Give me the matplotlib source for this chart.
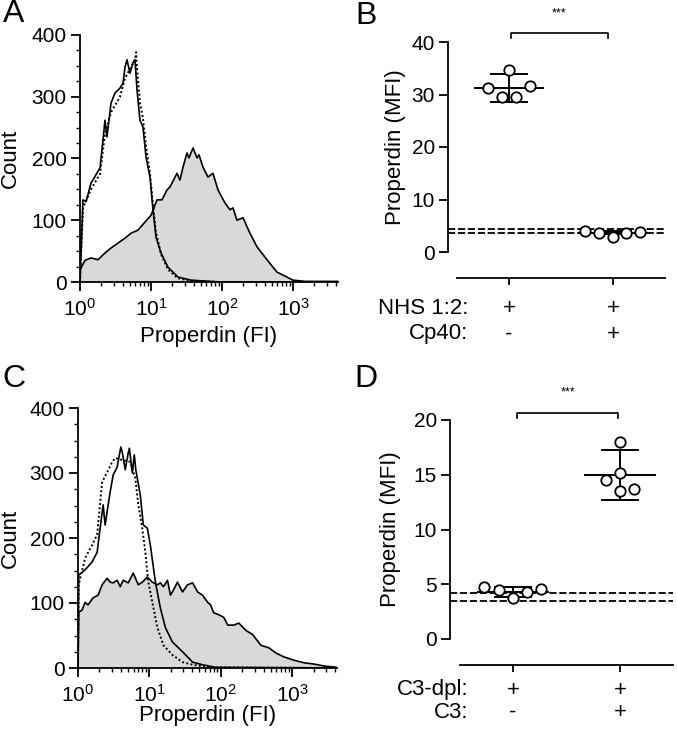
import numpy as np
import matplotlib
matplotlib.use("Agg")
import matplotlib.pyplot as plt
import matplotlib.transforms as mtransforms
from matplotlib.ticker import MultipleLocator, LogLocator, NullFormatter

plt.rcParams['font.family'] = ['Liberation Sans', 'DejaVu Sans']
plt.rcParams['mathtext.fontset'] = 'custom'
plt.rcParams['mathtext.rm'] = 'Liberation Sans'
plt.rcParams['mathtext.it'] = 'Liberation Sans'
plt.rcParams['mathtext.default'] = 'regular'

# ---- panel A histograms (log10 fluorescence, count) ----
a_ctrl_log = [0.0, 0.042, 0.085, 0.155, 0.282, 0.324, 0.352, 0.380, 0.437, 0.493,
              0.563, 0.606, 0.634, 0.662, 0.704, 0.746, 0.775, 0.803, 0.845, 0.887,
              0.930, 0.986, 1.028, 1.070, 1.141, 1.239, 1.380, 1.563, 1.97, 3.634]
a_ctrl_cnt = [0, 133, 130, 160, 185, 230, 262, 235, 290, 306,
              314, 322, 348, 360, 338, 355, 360, 311, 262, 251,
              202, 170, 117, 73, 47, 24, 8, 3, 0, 0]
a_dot_log = [0.0, 0.042, 0.155, 0.282, 0.352, 0.380, 0.437, 0.563, 0.634, 0.704,
             0.775, 0.79, 0.803, 0.845, 0.887, 0.930, 0.986, 1.028, 1.070, 1.141,
             1.239, 1.380, 1.563, 1.97, 3.634]
a_dot_cnt = [0, 120, 150, 175, 240, 250, 275, 300, 330, 345,
             360, 372, 345, 290, 265, 220, 175, 125, 80, 45,
             20, 6, 2, 0, 0]
a_np_log = [0.0, 0.07, 0.155, 0.254, 0.352, 0.437, 0.535, 0.634, 0.718, 0.817,
            0.915, 1.0, 1.085, 1.155, 1.225, 1.268, 1.366, 1.408, 1.451, 1.507,
            1.535, 1.592, 1.648, 1.676, 1.732, 1.803, 1.873, 1.944, 2.042, 2.113,
            2.155, 2.211, 2.296, 2.394, 2.493, 2.634, 2.775, 2.915, 3.0, 3.17, 3.634]
a_np_cnt = [19, 35, 39, 36, 47, 55, 63, 71, 79, 84,
            97, 108, 133, 133, 149, 154, 176, 165, 186, 209,
            201, 217, 201, 206, 186, 170, 176, 149, 128, 117,
            120, 100, 104, 79, 57, 36, 16, 8, 3, 1, 1]

# ---- panel C histograms ----
c_ctrl_log = [0.0, 0.01, 0.099, 0.197, 0.268, 0.31, 0.352, 0.38, 0.408, 0.451,
              0.493, 0.549, 0.60, 0.62, 0.662, 0.704, 0.72, 0.761, 0.789, 0.81,
              0.831, 0.873, 0.915, 0.972, 1.014, 1.085, 1.155, 1.225, 1.324, 1.465,
              1.606, 1.746, 1.93, 3.63]
c_ctrl_cnt = [0, 143, 151, 163, 178, 215, 251, 220, 240, 271,
              297, 309, 340, 332, 305, 331, 338, 300, 328, 305,
              292, 266, 220, 215, 189, 132, 92, 62, 40, 25,
              9, 5, 1, 0]
c_dot_log = [0.0, 0.01, 0.099, 0.197, 0.268, 0.338, 0.408, 0.479, 0.521, 0.62,
             0.732, 0.803, 0.845, 0.901, 0.944, 0.986, 1.042, 1.113, 1.197, 1.324,
             1.465, 1.606, 1.86, 3.63]
c_dot_cnt = [0, 128, 169, 189, 205, 286, 301, 317, 323, 320,
             317, 292, 251, 215, 178, 132, 101, 62, 35, 20,
             9, 5, 1, 0]
c_np_log = [0.0, 0.01, 0.056, 0.099, 0.141, 0.211, 0.282, 0.338, 0.408, 0.451,
            0.493, 0.549, 0.592, 0.634, 0.704, 0.775, 0.845, 0.901, 0.972, 1.042,
            1.113, 1.155, 1.197, 1.254, 1.296, 1.338, 1.394, 1.465, 1.535, 1.606,
            1.676, 1.746, 1.817, 1.859, 1.901, 1.972, 2.042, 2.099, 2.183, 2.254,
            2.352, 2.451, 2.563, 2.676, 2.775, 2.887, 3.028, 3.169, 3.31, 3.451, 3.63]
c_np_cnt = [0, 86, 89, 101, 97, 108, 112, 128, 138, 132,
            131, 135, 125, 135, 131, 146, 128, 132, 140, 132,
            128, 131, 125, 135, 112, 120, 132, 117, 128, 131,
            117, 112, 101, 97, 85, 82, 78, 66, 66, 69,
            58, 51, 35, 31, 23, 17, 12, 8, 6, 3, 1]

# ---- panel B (MFI) ----
b_nhs = [34.7, 31.2, 31.7, 29.5, 29.5]
b_cp40 = [4.0, 3.7, 2.8, 3.7, 3.8]
b_jitter = [[0.0, -0.2, 0.2, -0.07, 0.07], [-0.27, -0.135, 0.0, 0.125, 0.26]]
b_mean = [31.3, 3.7]
b_sd = [2.7, 0.3]
b_refs = [4.3, 3.6]
b_row1 = ['NHS 1:2:', '+', '+']
b_row2 = ['Cp40:', '-', '+']

# ---- panel D (MFI) ----
d_c3dpl = [4.72, 4.47, 3.77, 4.32, 4.57]
d_c3 = [18.0, 15.2, 14.5, 13.5, 13.7]
d_jitter = [[-0.27, -0.13, 0.0, 0.13, 0.26], [0.0, 0.0, -0.135, 0.0, 0.13]]
d_mean = [4.3, 15.0]
d_sd = [0.43, 2.3]
d_refs = [4.2, 3.5]
d_row1 = ['C3-dpl:', '+', '+']
d_row2 = ['C3:', '-', '+']

W, H = 677, 731
fig = plt.figure(figsize=(W / 100, H / 100), dpi=100)

GRAY = '#d9d9d9'
FS = 15
LFS = 16


def px_axes(l, t, r, b):
    return fig.add_axes([l / W, 1 - b / H, (r - l) / W, (b - t) / H])


def style_common(ax):
    for s in ('top', 'right'):
        ax.spines[s].set_visible(False)
    for s in ('left', 'bottom'):
        ax.spines[s].set_linewidth(1.3)
    ax.tick_params(direction='out', width=1.3, length=6.5, labelsize=FS, pad=3)
    ax.tick_params(which='minor', direction='out', width=1.0, length=3)


def place_labels(ax, ylab_x, xlab_y=None):
    ax.yaxis.label.set_verticalalignment('center')
    ax.yaxis.set_label_coords(ylab_x, 0.5)
    if xlab_y is not None:
        ax.xaxis.label.set_verticalalignment('center')
        ax.xaxis.set_label_coords(0.5, xlab_y)


def hist_panel(ax, ctrl, dot, np_, xmax, ylab_x, xlab_y):
    lx, ly = np_
    x = 10 ** np.array(lx)
    ax.fill_between(x, ly, 0, color=GRAY, lw=0)
    ax.plot(x, ly, color='black', lw=1.2)
    ax.plot(10 ** np.array(dot[0]), dot[1], color='black', lw=1.4,
            linestyle=(0, (1, 1.2)))
    ax.plot(10 ** np.array(ctrl[0]), ctrl[1], color='black', lw=1.2)
    ax.set_xscale('log')
    ax.set_xlim(1, 10 ** xmax)
    ax.set_ylim(0, 400)
    style_common(ax)
    ax.tick_params(axis='x', pad=5)
    ax.yaxis.set_major_locator(MultipleLocator(100))
    ax.yaxis.set_minor_locator(MultipleLocator(25))
    ax.xaxis.set_major_locator(LogLocator(base=10, numticks=10))
    ax.xaxis.set_minor_locator(LogLocator(base=10, subs=np.arange(2, 10), numticks=10))
    ax.xaxis.set_minor_formatter(NullFormatter())
    ax.set_ylabel('Count', fontsize=LFS)
    ax.set_xlabel('Properdin (FI)', fontsize=LFS)
    place_labels(ax, ylab_x, xlab_y)


def dot_panel(ax, groups_vals, jitter, mean, sd, refs, ylim, yticks,
              row1, row2, xlim, bracket_y, star_y, bracket_x, bound_lo,
              row_y, ylab_x, row_lab_x):
    for r in refs:
        ax.plot(xlim, [r, r], color='black', lw=1.3, linestyle=(0, (4, 1.5)),
                clip_on=False, zorder=2)
    for g, vals in enumerate(groups_vals):
        xs = [g + j for j in jitter[g]]
        ax.plot([g - 0.33, g + 0.33], [mean[g]] * 2, color='black', lw=1.4, zorder=3)
        ax.plot([g, g], [mean[g] - sd[g], mean[g] + sd[g]], color='black', lw=1.4, zorder=3)
        for yy in (mean[g] - sd[g], mean[g] + sd[g]):
            ax.plot([g - 0.17, g + 0.17], [yy, yy], color='black', lw=1.4, zorder=3)
        ax.plot(xs, vals, 'o', ms=7.5, mfc='white', mec='black', mew=1.3,
                zorder=4, clip_on=False)
    ax.set_xlim(*xlim)
    ax.set_ylim(*ylim)
    ax.set_yticks(yticks)
    style_common(ax)
    ax.spines['bottom'].set_position(('outward', 19))
    ax.spines['bottom'].set_bounds(bound_lo, xlim[1])
    ax.set_xticks([0, 1])
    ax.set_xticklabels([])
    ax.tick_params(axis='x', length=5)
    ax.set_ylabel('Properdin (MFI)', fontsize=LFS)
    place_labels(ax, ylab_x)
    # significance bracket
    x0, x1 = bracket_x
    drop = (ylim[1] - ylim[0]) * 0.025
    ax.plot([x0, x0, x1, x1], [bracket_y - drop, bracket_y, bracket_y, bracket_y - drop],
            color='black', lw=1.2, clip_on=False)
    ax.text((x0 + x1) / 2, star_y, '***', ha='center', va='center', fontsize=9)
    # group condition rows
    tr = mtransforms.blended_transform_factory(ax.transData, fig.transFigure)
    for row, ypx in zip((row1, row2), row_y):
        yf = 1 - ypx / H
        ax.text(row_lab_x, yf, row[0], transform=tr, ha='right', va='center', fontsize=LFS)
        ax.text(0, yf, row[1], transform=tr, ha='center', va='center', fontsize=LFS)
        ax.text(1, yf, row[2], transform=tr, ha='center', va='center', fontsize=LFS)


axA = px_axes(80, 35, 338, 282)
hist_panel(axA, (a_ctrl_log, a_ctrl_cnt), (a_dot_log, a_dot_cnt),
           (a_np_log, a_np_cnt), 3.634, -0.271, -0.219)

axC = px_axes(78, 408, 337, 668)
hist_panel(axC, (c_ctrl_log, c_ctrl_cnt), (c_dot_log, c_dot_cnt),
           (c_np_log, c_np_cnt), 3.63, -0.263, -0.181)

axB = px_axes(448, 42, 665, 252)
dot_panel(axB, [b_nhs, b_cp40], b_jitter, b_mean, b_sd, b_refs,
          (0, 40), [0, 10, 20, 30, 40], b_row1, b_row2, (-0.587, 1.5),
          41.7, 45.5, (0.02, 0.95), -0.5, (309, 334), -0.244, -0.39)

axD = px_axes(450, 420, 673, 639)
dot_panel(axD, [d_c3dpl, d_c3], d_jitter, d_mean, d_sd, d_refs,
          (0, 20), [0, 5, 10, 15, 20], d_row1, d_row2, (-0.589, 1.495),
          20.64, 22.5, (0.04, 0.98), -0.495, (690, 712), -0.269, -0.42)

for lab, xp, yp in (('A', 14, 14), ('B', 366, 16), ('C', 14, 379), ('D', 366, 379)):
    fig.text(xp / W, 1 - yp / H, lab, fontsize=23, ha='center', va='center')

fig.savefig('out.png', dpi=100)
